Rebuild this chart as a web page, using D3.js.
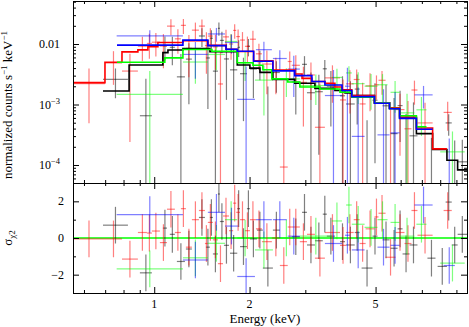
<!DOCTYPE html>
<html><head><meta charset="utf-8">
<script src="https://cdn.jsdelivr.net/npm/d3@7"></script>
<style>
body{margin:0;background:#fff}
svg{display:block}
text{font-family:"Liberation Serif","DejaVu Serif",serif;fill:#000}
</style>
</head><body>
<svg id="c" width="469" height="327"></svg>
<script>
// ---------- data ----------
const xMajorTicks=[1,2,5];
const xMinorTicks=[0.6,0.7,0.8,0.9,3,4,6,7,8,9];
const xTickLabels=["1","2","5"];
const yTopMajor=[1e-2,1e-3,1e-4];
const yTopLabels=[["0.01",""],["10","\u22123"],["10","\u22124"]];
const yResMajor=[-2,0,2];
const yResMinor=[-1,1];
const yResLabels=["\u22122","0","2"];

// model step lines: bin edges (keV) and values (counts/s/keV)
const blackModelE=[0.689,0.833,1.065,1.105,1.232,1.499,1.829,2.005,2.157,2.37,2.778,3.217,3.72,4.003,4.206,4.959,5.534,5.955,6.728,7.57,8.40,9.08,9.72];
const blackModelV=[1.67e-3,4.5e-3,7.2e-3,7.96e-3,8.4e-3,7.45e-3,4.5e-3,4.0e-3,3.4e-3,2.6e-3,2.25e-3,1.85e-3,1.7e-3,1.55e-3,1.4e-3,1.07e-3,8.6e-4,6.0e-4,3.3e-4,1.8e-4,1.2e-4,8.3e-5];
const redModelE=[0.554,0.699,0.791,0.888,0.955,1.027,1.232,1.477,1.685,1.829,2.06,2.37,2.778,2.929,3.147,3.459,3.72,3.918,4.206,4.959,5.534,5.955,6.728,7.57,8.40];
const redModelV=[2.3e-3,5.0e-3,7.4e-3,8.0e-3,9.0e-3,1.06e-2,1.13e-2,9.5e-3,8.2e-3,7.5e-3,5.3e-3,3.7e-3,3.2e-3,2.7e-3,2.4e-3,2.25e-3,1.95e-3,1.75e-3,1.4e-3,1.07e-3,8.8e-4,6.2e-4,4.1e-4,1.85e-4];
const greenModelE=[0.763,1.08,1.232,1.521,1.829,2.05,2.203,2.352,2.64,2.883,3.336,3.86,4.206,4.959,5.534,5.955,6.728,7.24];
const greenModelV=[5.0e-3,5.9e-3,8.1e-3,7.6e-3,4.9e-3,4.45e-3,3.75e-3,2.65e-3,2.35e-3,1.95e-3,1.8e-3,1.6e-3,1.32e-3,1.06e-3,8.6e-4,6.5e-4,4.3e-4];
const blueModelE=[0.763,1.232,1.477,1.685,1.829,2.06,2.37,2.778,3.147,3.459,3.918,4.206,4.959,5.534,5.955,6.728,7.57];
const blueModelV=[9.6e-3,1.16e-2,9.4e-3,8.2e-3,7.6e-3,5.2e-3,3.6e-3,3.0e-3,2.4e-3,2.1e-3,1.7e-3,1.35e-3,1.05e-3,8.5e-4,5.9e-4,3.9e-4];

// data bins: [E low, E high, residual (sigma), relative error]
const blackBins=[[0.689,0.826,0.7,0.8],[0.901,0.983,-1.9,0.45],[1.065,1.097,0.54,0.55],[1.12,1.162,0.2,0.55],[1.179,1.25,-1.28,0.5],[1.259,1.315,-0.6,0.55],[1.384,1.446,1.12,0.55],[1.456,1.499,-0.5,0.6],[1.499,1.532,1.12,0.6],[1.532,1.589,-0.87,0.6],[1.589,1.612,2.4,0.6],[1.612,1.66,0.9,0.6],[1.66,1.722,-0.4,0.6],[1.735,1.829,-0.83,0.6],[1.829,1.866,1.6,0.6],[1.866,1.962,-0.47,0.6],[1.962,2.005,1.6,0.65],[2.005,2.11,-0.05,0.65],[2.11,2.203,0.43,0.65],[2.203,2.37,-1.64,0.65],[2.37,2.493,0.43,0.7],[2.718,2.883,0.07,0.75],[2.929,3.036,1.4,0.75],[3.036,3.217,-0.38,0.8],[3.217,3.406,-0.15,0.8],[3.406,3.508,1.3,0.85],[3.508,3.72,0.1,0.85],[3.86,4.003,-0.2,0.9],[4.035,4.297,-0.38,0.9],[4.297,4.452,0.3,0.95],[4.517,4.889,-1.64,0.95],[4.889,5.07,0.1,1.0],[5.258,5.534,-0.1,1.1],[5.575,5.868,-0.56,1.1],[5.868,6.084,0.5,1.2],[6.084,6.40,-0.87,1.2],[6.40,6.78,-0.38,1.3],[7.29,7.73,-1.1,1.5],[7.85,8.40,-1.55,1.6],[8.32,8.70,1.96,1.6],[8.70,9.08,-0.38,1.8],[9.08,9.72,0.2,1.8]];
const redBins=[[0.554,0.699,-0.05,0.75],[0.699,0.791,-0.05,0.55],[0.791,0.888,-1.15,0.45],[0.888,0.948,0.3,0.5],[0.948,0.983,0.27,0.5],[0.983,1.042,0.38,0.5],[1.042,1.097,-0.25,0.5],[1.097,1.162,1.57,0.55],[1.162,1.214,0.3,0.5],[1.214,1.259,1.6,0.5],[1.259,1.315,-0.5,0.5],[1.315,1.384,1.0,0.5],[1.384,1.446,1.5,0.5],[1.446,1.477,-0.3,0.55],[1.477,1.532,0.85,0.5],[1.532,1.589,-0.1,0.55],[1.589,1.649,-1.4,0.55],[1.649,1.722,1.2,0.5],[1.722,1.775,0.4,0.55],[1.775,1.815,1.9,0.55],[1.815,1.866,1.4,0.55],[1.866,1.934,1.0,0.55],[1.934,2.005,0.4,0.55],[2.005,2.095,1.0,0.6],[2.095,2.188,0.5,0.6],[2.188,2.352,-0.2,0.6],[2.352,2.493,0.0,0.6],[2.493,2.64,-1.5,0.65],[2.64,2.718,0.6,0.65],[2.718,2.883,0.6,0.65],[2.883,3.036,-0.2,0.7],[3.036,3.217,0.2,0.7],[3.217,3.459,-1.1,0.75],[3.459,3.86,0.3,0.75],[3.86,4.035,-0.4,0.8],[4.035,4.265,0.3,0.85],[4.265,4.452,1.0,0.85],[4.452,4.651,-0.3,0.9],[4.651,4.959,0.5,0.9],[4.959,5.107,1.15,0.85],[5.107,5.376,1.35,1.0],[5.376,5.78,-1.05,1.0],[5.78,6.17,0.3,1.1],[6.17,6.49,-0.3,1.2],[6.49,6.78,1.5,1.2],[6.78,7.57,0.15,1.4],[8.2,8.7,1.5,2.0]];
const greenBins=[[0.761,1.232,-1.68,0.42],[1.232,1.477,-1.08,0.35],[1.477,1.673,-0.29,0.4],[1.673,1.829,1.0,0.45],[1.829,2.05,0.0,0.5],[2.08,2.37,-0.65,0.5],[2.37,2.883,0.0,0.5],[2.883,3.638,0.1,0.55],[3.638,3.918,0.93,0.6],[4.035,4.206,1.8,0.6],[4.206,4.616,0.75,0.9],[4.616,5.07,0.58,0.9],[5.07,5.454,1.0,1.0],[5.575,5.955,0.85,1.0],[5.955,6.633,0.1,1.2],[6.728,7.24,0.75,1.2],[8.0,9.56,-1.37,0.45]];
const blueBins=[[0.761,1.232,1.28,0.33],[1.232,1.477,-1.2,0.35],[1.477,1.673,1.4,0.4],[1.673,1.838,0.65,0.45],[1.829,2.08,-2.1,0.4],[2.095,2.352,1.0,0.55],[2.37,2.621,1.0,0.6],[2.64,2.883,0.1,0.7],[3.459,3.918,-0.3,1.1],[4.003,4.147,0.15,1.2],[4.206,4.616,-0.65,1.2],[5.07,5.534,-0.5,1.4],[5.575,5.955,-0.4,1.5],[6.633,7.57,1.8,1.5],[8.2,8.9,-1.5,0.6]];

// ---------- layout ----------
const L=73,R=467,T=1,M=183,B=293;
const svg=d3.select("#c");
svg.append("rect").attr("width",469).attr("height",327).attr("fill","#fff");
const x=d3.scaleLog().domain([0.554,9.72]).range([L,R]);
const yT=d3.scaleLog().domain([5.04e-5,0.0514]).range([M,T]);
const yR=d3.scaleLinear().domain([-3,3]).range([B,M]);

const defs=svg.append("defs");
defs.append("clipPath").attr("id","cT").append("rect").attr("x",L).attr("y",T).attr("width",R-L).attr("height",M-T);
defs.append("clipPath").attr("id","cR").append("rect").attr("x",L).attr("y",M).attr("width",R-L).attr("height",B-M);

const series=[
 {bins:blackBins,mE:blackModelE,mV:blackModelV,dc:"#000",mc:"#000"},
 {bins:redBins,mE:redModelE,mV:redModelV,dc:"#f00",mc:"#f00"},
 {bins:greenBins,mE:greenModelE,mV:greenModelV,dc:"#0f0",mc:"#0f0"},
 {bins:blueBins,mE:blueModelE,mV:blueModelV,dc:"#00f",mc:"#00f"}
];
function modelAt(s,e){
  const E=s.mE,V=s.mV;
  if(e<E[0]) return V[0];
  for(let i=0;i<V.length;i++){ if(e>=E[i]&&e<E[i+1]) return V[i]; }
  return V[V.length-1];
}

const gTop=svg.append("g").attr("clip-path","url(#cT)");
const gRes=svg.append("g").attr("clip-path","url(#cR)");

// zero line in residual panel
gRes.append("line").attr("x1",L).attr("x2",R).attr("y1",yR(0)).attr("y2",yR(0))
  .attr("stroke","#0f0").attr("stroke-width",1.3);

const tiny=1e-7;
series.forEach(s=>{
  const gd=gTop.append("g").attr("stroke",s.dc).attr("stroke-opacity",0.5).attr("stroke-width",1.2);
  const gr=gRes.append("g").attr("stroke",s.dc).attr("stroke-opacity",0.5).attr("stroke-width",1.2);
  s.bins.forEach(b=>{
    const [lo,hi,r,f]=b;
    const ec=Math.sqrt(lo*hi);
    const m=modelAt(s,ec);
    const err=m*f;
    const rate=m+r*err;
    const top=rate+err, bot=Math.max(rate-err,tiny);
    if(rate>tiny){
      gd.append("line").attr("x1",x(lo)).attr("x2",x(hi)).attr("y1",yT(rate)).attr("y2",yT(rate));
    }
    if(top>tiny){
      gd.append("line").attr("x1",x(ec)).attr("x2",x(ec)).attr("y1",yT(top)).attr("y2",yT(bot));
    }
    gr.append("line").attr("x1",x(lo)).attr("x2",x(hi)).attr("y1",yR(r)).attr("y2",yR(r));
    gr.append("line").attr("x1",x(ec)).attr("x2",x(ec)).attr("y1",yR(r+1)).attr("y2",yR(r-1));
  });
});
// models
const stepLine=d3.line().x(d=>x(d[0])).y(d=>yT(d[1])).curve(d3.curveStepAfter);
series.forEach(s=>{
  const pts=s.mV.map((v,i)=>[s.mE[i],v]);
  pts.push([s.mE[s.mE.length-1],s.mV[s.mV.length-1]]);
  gTop.append("path").attr("d",stepLine(pts)).attr("fill","none")
    .attr("stroke",s.mc).attr("stroke-width",1.6);
});

// ---------- axes / frame ----------
function tickAxis(axisFn,scale,vals,size,tx,ty){
  const a=axisFn(scale).tickValues(vals).tickSize(size).tickFormat("");
  const g=svg.append("g").attr("transform",`translate(${tx},${ty})`).call(a);
  g.select(".domain").remove();
  g.selectAll("line").attr("stroke","#000").attr("stroke-width",1);
}
// x ticks: top of figure, mid line (both sides), bottom
[[xMajorTicks,6],[xMinorTicks,3]].forEach(([v,s])=>{
  tickAxis(d3.axisTop,x,v,-s,0,T);
  tickAxis(d3.axisBottom,x,v,-s,0,M);
  tickAxis(d3.axisTop,x,v,-s,0,M);
  tickAxis(d3.axisBottom,x,v,-s,0,B);
});
// y ticks top panel
const yTopMinor=[];
[1e-5,1e-4,1e-3,1e-2].forEach(d=>{for(let k=2;k<=9;k++){const v=k*d; if(v>5.04e-5&&v<0.0514) yTopMinor.push(v);}});
[[yTopMajor,6],[yTopMinor,3]].forEach(([v,s])=>{
  tickAxis(d3.axisLeft,yT,v,-s,L,0);
  tickAxis(d3.axisRight,yT,v,-s,R,0);
});
[[yResMajor,6],[yResMinor,3]].forEach(([v,s])=>{
  tickAxis(d3.axisLeft,yR,v,-s,L,0);
  tickAxis(d3.axisRight,yR,v,-s,R,0);
});
// frame
const fr=svg.append("g").attr("stroke","#000").attr("stroke-width",1).attr("fill","none").attr("shape-rendering","crispEdges");
fr.append("rect").attr("x",L).attr("y",T).attr("width",R-L).attr("height",B-T);
fr.append("line").attr("x1",L).attr("x2",R).attr("y1",M).attr("y2",M);

// tick labels
xMajorTicks.forEach((v,i)=>{
  svg.append("text").attr("x",x(v)).attr("y",307.5).attr("text-anchor","middle")
    .attr("font-size",12).text(xTickLabels[i]);
});
yTopMajor.forEach((v,i)=>{
  const t=svg.append("text").attr("x",60).attr("y",yT(v)+4).attr("text-anchor","end").attr("font-size",12);
  t.append("tspan").text(yTopLabels[i][0]);
  if(yTopLabels[i][1]) t.append("tspan").attr("dy",-5).attr("font-size",8.5).text(yTopLabels[i][1]);
});
yResMajor.forEach((v,i)=>{
  svg.append("text").attr("x",64).attr("y",yR(v)+4).attr("text-anchor","end")
    .attr("font-size",12).text(yResLabels[i]);
});
// axis titles
svg.append("text").attr("x",265).attr("y",323).attr("text-anchor","middle").attr("font-size",13).text("Energy (keV)");
const yl=svg.append("text").attr("transform","translate(12,105) rotate(-90)").attr("text-anchor","middle").attr("font-size",13);
yl.append("tspan").text("normalized counts s");
yl.append("tspan").attr("dy",-5).attr("font-size",9).text("\u22121");
yl.append("tspan").attr("dy",5).text(" keV");
yl.append("tspan").attr("dy",-5).attr("font-size",9).text("\u22121");
const rl=svg.append("text").attr("transform","translate(12,238) rotate(-90)").attr("text-anchor","middle").attr("font-size",13);
rl.append("tspan").text("\u03c3");
rl.append("tspan").attr("dy",3).attr("font-size",9).text("\u03c72");
</script>
</body></html>
